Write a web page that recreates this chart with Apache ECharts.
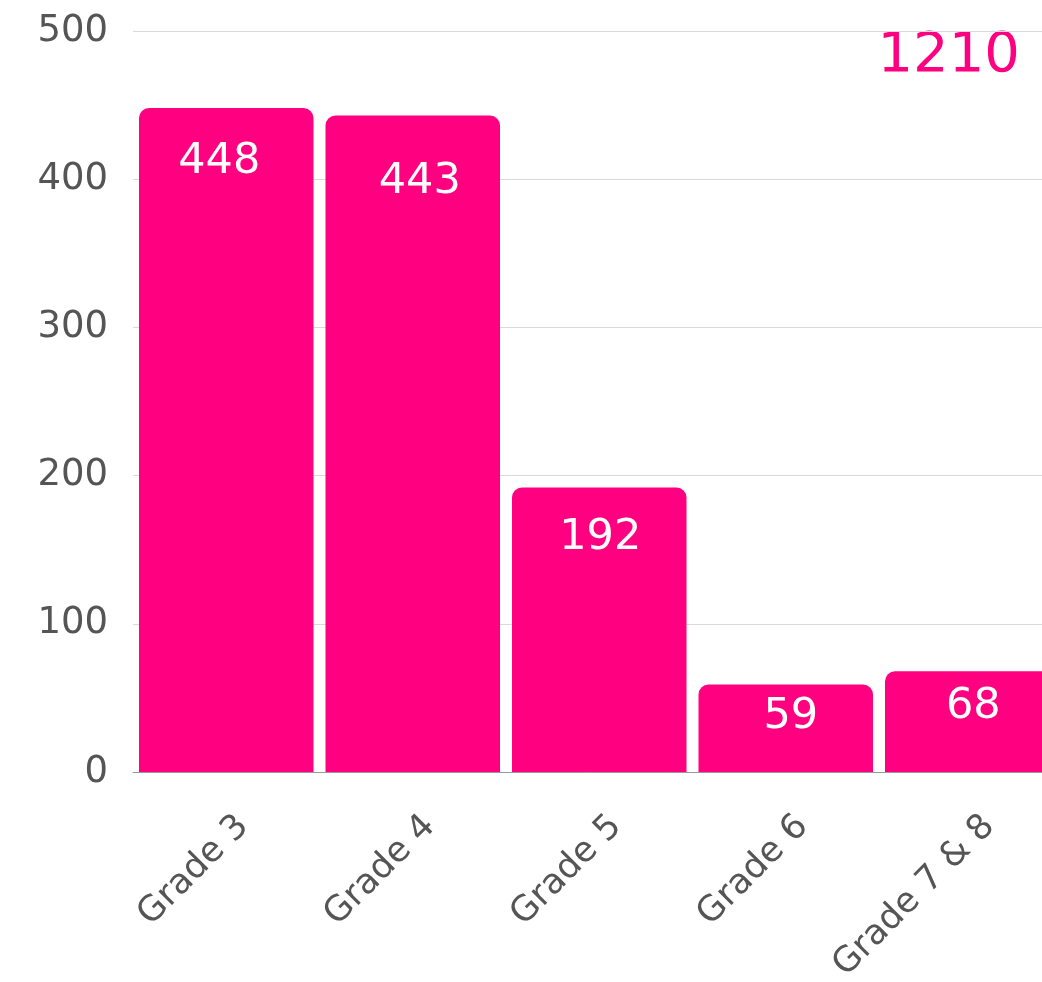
<!DOCTYPE html>
<html>
<head>
<meta charset="utf-8">
<script src="https://cdn.jsdelivr.net/npm/echarts@6/dist/echarts.min.js"></script>
<style>
  html, body { margin: 0; padding: 0; background: #fff; }
  #chart { width: 1042px; height: 982px; }
</style>
</head>
<body>
<div id="chart"></div>
<script>
var categories = ["Grade 3", "Grade 4", "Grade 5", "Grade 6", "Grade 7 & 8"];
var counts = [448, 443, 192, 59, 68];
var total = 1210;

// label placement inside each bar (px from bar top, px sideways)
var labelPlace = [[54, -7], [66, 7], [50, 1], [32, 5], [36, 1]];

var pink = "#FF0080";
var font = "DejaVu Sans";

var chart = echarts.init(document.getElementById("chart"));

var seriesData = counts.map(function (v, i) {
  return {
    value: v,
    label: {
      position: ["50%", labelPlace[i][0]],
      offset: [labelPlace[i][1], 0]
    }
  };
});

chart.setOption({
  animation: false,
  grid: {
    left: 133,
    top: 31,
    width: 932.5,
    height: 741,
    outerBoundsMode: "none",
    containLabel: false
  },
  xAxis: {
    type: "category",
    data: categories,
    axisLine: { lineStyle: { color: "#999", width: 1 } },
    axisTick: { show: false },
    axisLabel: {
      rotate: 45,
      margin: 66,
      color: "#555",
      fontFamily: font,
      fontSize: 35,
      interval: 0,
      padding: [0, -24, 0, 0]
    }
  },
  yAxis: {
    type: "value",
    min: 0,
    max: 500,
    interval: 100,
    axisLine: { show: false },
    axisTick: { show: false },
    splitLine: { lineStyle: { color: "#d9d9d9", width: 1 } },
    axisLabel: {
      margin: 25,
      color: "#555",
      fontFamily: font,
      fontSize: 37
    }
  },
  series: [{
    type: "bar",
    data: seriesData,
    barCategoryGap: 12,
    itemStyle: { color: pink, borderRadius: [10, 10, 0, 0] },
    label: {
      show: true,
      color: "#fff",
      fontFamily: font,
      fontSize: 43,
      align: "center",
      verticalAlign: "middle"
    }
  }],
  graphic: [{
    type: "text",
    right: 22,
    top: 28,
    style: {
      text: String(total),
      fill: pink,
      font: "56px '" + font + "'"
    }
  }]
});
</script>
</body>
</html>
